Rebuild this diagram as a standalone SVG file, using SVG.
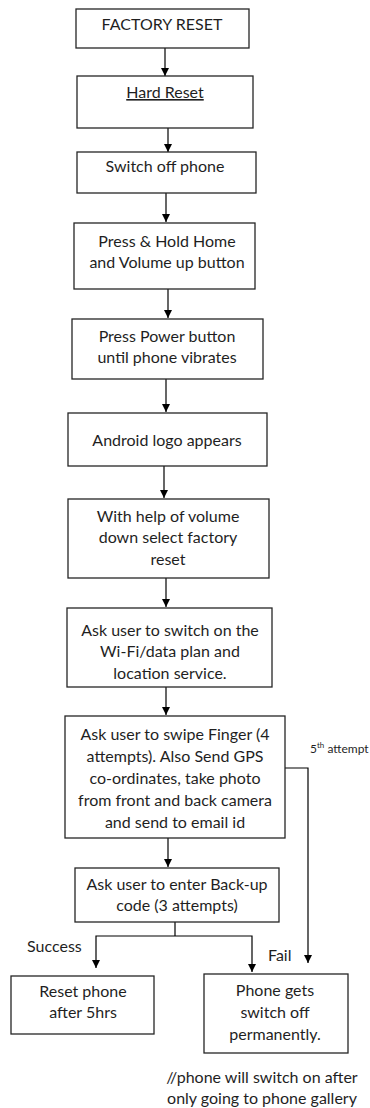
<svg xmlns="http://www.w3.org/2000/svg" width="370" height="1108" viewBox="0 0 370 1108">
  <style>
    .box { fill: #ffffff; stroke: #262626; stroke-width: 1.3; }
    .lbl { font-family: Lato, "Liberation Sans", sans-serif; font-size: 16px; fill: #1f1f1f; text-anchor: middle; }
    .side { font-family: Lato, "Liberation Sans", sans-serif; font-size: 16px; fill: #1f1f1f; }
    .sm { font-family: Lato, "Liberation Sans", sans-serif; font-size: 12px; fill: #1f1f1f; }
    .sup { font-size: 8px; }
    .wire { fill: none; stroke: #000000; stroke-width: 1.2; }
    .arrow { fill: none; stroke: #000000; stroke-width: 1.2; marker-end: url(#head); }
  </style>
  <defs>
    <marker id="head" markerUnits="userSpaceOnUse" markerWidth="8" markerHeight="9" refX="8" refY="4" orient="auto">
      <path d="M0,0 L8,4 L0,8 z" fill="#000000"/>
    </marker>
  </defs>
  <rect width="370" height="1108" fill="#ffffff"/>

  <g id="connectors">
    <line class="arrow" x1="165" y1="48" x2="165" y2="76"/>
    <line class="arrow" x1="168" y1="128" x2="168" y2="152"/>
    <line class="arrow" x1="166" y1="193" x2="166" y2="222"/>
    <line class="arrow" x1="168" y1="289" x2="168" y2="318"/>
    <line class="arrow" x1="166" y1="379" x2="166" y2="412"/>
    <line class="arrow" x1="164" y1="466" x2="164" y2="498"/>
    <line class="arrow" x1="166" y1="578" x2="166" y2="607"/>
    <line class="arrow" x1="166" y1="687" x2="166" y2="715"/>
    <line class="arrow" x1="168" y1="838" x2="168" y2="867"/>
    <polyline class="wire" points="175,922 175,936"/>
    <polyline class="arrow" points="175,936 96,936 96,968"/>
    <polyline class="arrow" points="175,936 252,936 252,972"/>
    <polyline class="arrow" points="285,768 308,768 308,963"/>
  </g>

  <g id="n-factory-reset">
    <rect class="box" x="76" y="9" width="173" height="39"/>
    <text class="lbl" x="162" y="30">FACTORY RESET</text>
  </g>
  <g id="n-hard-reset">
    <rect class="box" x="77" y="76" width="176" height="52"/>
    <text class="lbl" x="165" y="98" text-decoration="underline">Hard Reset</text>
  </g>
  <g id="n-switch-off">
    <rect class="box" x="77" y="152" width="179" height="41"/>
    <text class="lbl" x="165" y="172">Switch off phone</text>
  </g>
  <g id="n-press-hold">
    <rect class="box" x="74" y="223" width="181" height="66"/>
    <text class="lbl" x="167" y="247">Press &amp; Hold Home</text>
    <text class="lbl" x="167" y="268">and Volume up button</text>
  </g>
  <g id="n-press-power">
    <rect class="box" x="72" y="319" width="191" height="60"/>
    <text class="lbl" x="167" y="342">Press Power button</text>
    <text class="lbl" x="167" y="363">until phone vibrates</text>
  </g>
  <g id="n-android-logo">
    <rect class="box" x="68" y="413" width="199" height="53"/>
    <text class="lbl" x="167" y="446">Android logo appears</text>
  </g>
  <g id="n-volume-down">
    <rect class="box" x="68" y="499" width="201" height="79"/>
    <text class="lbl" x="168" y="522">With help of volume</text>
    <text class="lbl" x="168" y="543">down select factory</text>
    <text class="lbl" x="168" y="565">reset</text>
  </g>
  <g id="n-wifi">
    <rect class="box" x="67" y="608" width="205" height="79"/>
    <text class="lbl" x="170" y="636">Ask user to switch on the</text>
    <text class="lbl" x="170" y="657">Wi-Fi/data plan and</text>
    <text class="lbl" x="170" y="679">location service.</text>
  </g>
  <g id="n-swipe-finger">
    <rect class="box" x="65" y="716" width="220" height="122"/>
    <text class="lbl" x="175" y="740">Ask user to swipe Finger (4</text>
    <text class="lbl" x="175" y="762">attempts). Also Send GPS</text>
    <text class="lbl" x="175" y="784">co-ordinates, take photo</text>
    <text class="lbl" x="175" y="806">from front and back camera</text>
    <text class="lbl" x="175" y="828">and send to email id</text>
  </g>
  <g id="n-backup-code">
    <rect class="box" x="75" y="868" width="204" height="54"/>
    <text class="lbl" x="177" y="890">Ask user to enter Back-up</text>
    <text class="lbl" x="177" y="911">code (3 attempts)</text>
  </g>
  <g id="n-reset-phone">
    <rect class="box" x="11" y="976" width="143" height="58"/>
    <text class="lbl" x="83" y="997">Reset phone</text>
    <text class="lbl" x="83" y="1018">after 5hrs</text>
  </g>
  <g id="n-switch-off-perm">
    <rect class="box" x="204" y="974" width="144" height="79"/>
    <text class="lbl" x="275" y="996">Phone gets</text>
    <text class="lbl" x="275" y="1018">switch off</text>
    <text class="lbl" x="275" y="1040">permanently.</text>
  </g>

  <g id="labels">
    <text class="side" x="27" y="952">Success</text>
    <text class="side" x="268" y="961">Fail</text>
    <text class="sm" x="310" y="753">5<tspan class="sup" dy="-5">th</tspan><tspan dy="5"> attempt</tspan></text>
    <text class="lbl" x="262" y="1083">//phone will switch on after</text>
    <text class="lbl" x="262" y="1104">only going to phone gallery</text>
  </g>
</svg>
